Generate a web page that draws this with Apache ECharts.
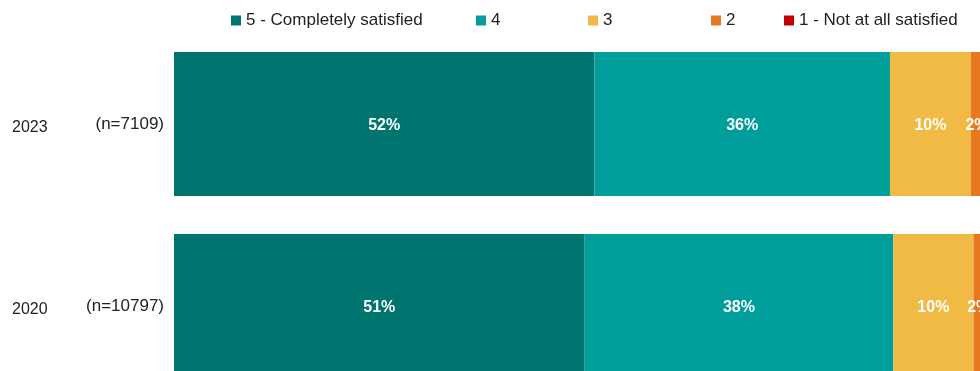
<!DOCTYPE html>
<html>
<head>
<meta charset="utf-8">
<script src="https://cdn.jsdelivr.net/npm/echarts@6/dist/echarts.min.js"></script>
<style>html,body{margin:0;padding:0;background:#fff;}#c{width:980px;height:371px;}</style>
</head>
<body>
<div id="c"></div>
<script>
const years = ['2023', '2020'];
const sampleSizes = ['(n=7109)', '(n=10797)'];
const seriesNames = ['5 - Completely satisfied', '4', '3', '2', '1 - Not at all satisfied'];
const s5 = [51.9, 50.7];
const s4 = [36.49, 38.1];
const s3 = [10.0, 9.9];
const s2 = [1.5, 1.5];
const s1 = [0.1, 0.1];
const colors = ['#00756F', '#009E9A', '#F0BA45', '#E87722', '#C00000'];
const legendLeft = [231, 476, 588, 711, 784];

const chart = echarts.init(document.getElementById('c'), null, {renderer: 'canvas'});
const values = [s5, s4, s3, s2, s1];
const font = 'Arial, "Liberation Sans", sans-serif';
chart.setOption({
  animation: false,
  legend: seriesNames.map((n, i) => ({
    data: [n], left: legendLeft[i], top: 12, padding: 0, itemWidth: 10, itemHeight: 10, itemGap: 0,
    icon: 'rect', textStyle: {fontFamily: font, fontSize: 17, color: '#222'}
  })),
  grid: {left: 174, width: 810, top: 33, height: 364, containLabel: false, outerBoundsMode: 'none'},
  xAxis: {type: 'value', min: 0, max: 100, show: false},
  yAxis: {
    type: 'category', inverse: true, data: years,
    axisLine: {show: false}, axisTick: {show: false},
    axisLabel: {
      margin: 10,
      formatter: (v, i) => '{y|' + v + '}{n|' + sampleSizes[i] + '}',
      rich: {
        y: {width: 83, align: 'left', fontFamily: font, fontSize: 16, color: '#222', padding: [7, 0, 0, 0]},
        n: {width: 69, align: 'right', fontFamily: font, fontSize: 17, color: '#222'}
      }
    }
  },
  series: seriesNames.map((n, i) => ({
    name: n, type: 'bar', stack: 'a', data: values[i], barWidth: 144,
    itemStyle: {color: colors[i]},
    label: {
      show: i < 4, position: 'inside', color: '#fff', fontWeight: 'bold',
      fontFamily: font, fontSize: 16, offset: [0, 2],
      formatter: p => Math.round(p.value) + '%'
    }
  }))
});
</script>
</body>
</html>
